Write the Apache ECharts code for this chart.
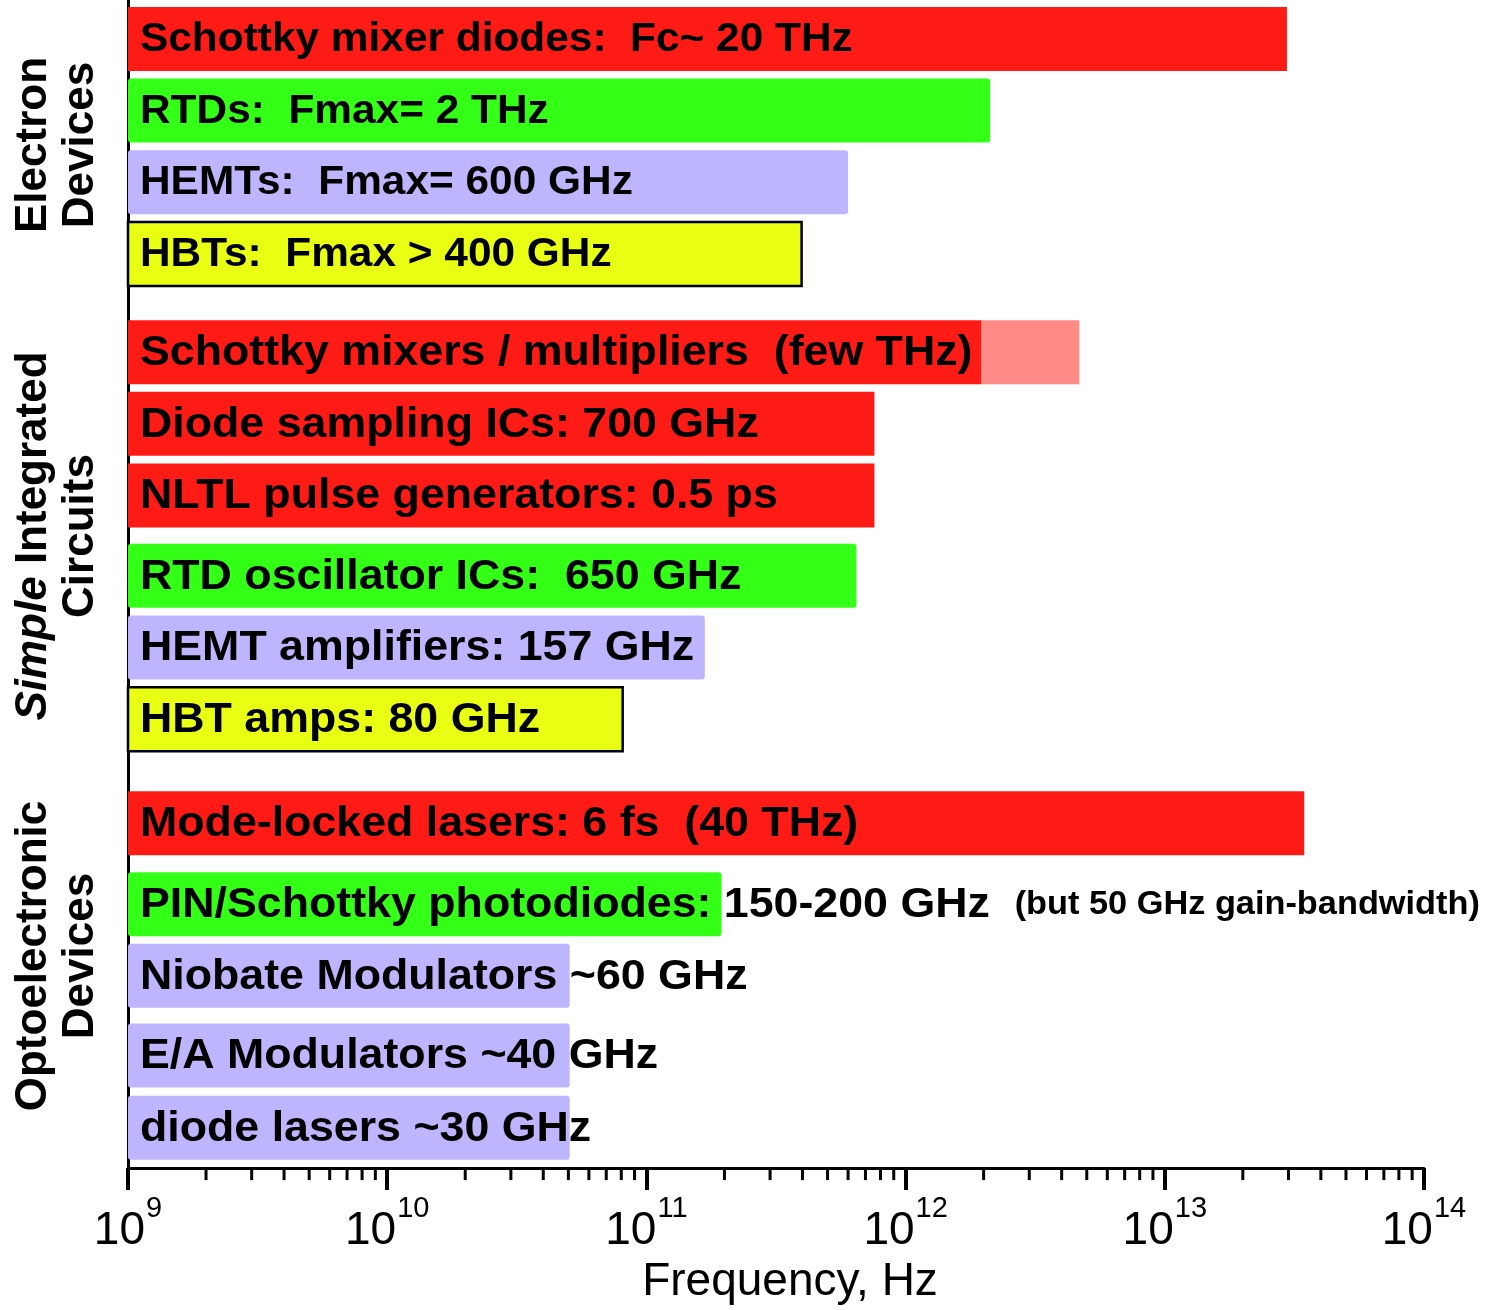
<!DOCTYPE html>
<html><head><meta charset="utf-8">
<script src="https://cdn.jsdelivr.net/npm/echarts@6/dist/echarts.min.js"></script>
<style>html,body{margin:0;padding:0;background:#fff}#c{width:1494px;height:1310px}</style>
</head><body><div id="c"></div>
<script>
// ---- data ----
const labels = [
  'Schottky mixer diodes:  Fc~ 20 THz',
  'RTDs:  Fmax= 2 THz',
  'HEMTs:  Fmax= 600 GHz',
  'HBTs:  Fmax > 400 GHz',
  'Schottky mixers / multipliers  (few THz)',
  'Diode sampling ICs: 700 GHz',
  'NLTL pulse generators: 0.5 ps',
  'RTD oscillator ICs:  650 GHz',
  'HEMT amplifiers: 157 GHz',
  'HBT amps: 80 GHz',
  'Mode-locked lasers: 6 fs  (40 THz)',
  'PIN/Schottky photodiodes: 150-200 GHz',
  'Niobate Modulators ~60 GHz',
  'E/A Modulators ~40 GHz',
  'diode lasers ~30 GHz'
];
const notes = ['', '', '', '', '', '', '', '', '', '', '', '(but 50 GHz gain-bandwidth)', '', '', ''];
const values = [2.96e13, 2.12e12, 6.0e11, 3.97e11, 1.96e12, 7.58e11, 7.58e11, 6.46e11, 1.68e11, 8.1e10, 3.45e13, 1.95e11, 5.06e10, 5.06e10, 5.06e10];
const extendTo = [null, null, null, null, 4.68e12, null, null, null, null, null, null, null, null, null, null];
const kinds = ['schottky', 'rtd', 'hemt', 'hbt', 'schottky', 'schottky', 'schottky', 'rtd', 'hemt', 'hbt', 'schottky', 'rtd', 'hemt', 'hemt', 'hemt'];
const groupOf = [0, 0, 0, 0, 1, 1, 1, 1, 1, 1, 2, 2, 2, 2, 2];
const groupNames = ['Electron\nDevices', '{i|Simple} Integrated\nCircuits', 'Optoelectronic\nDevices'];
const tickExponents = [9, 10, 11, 12, 13, 14];
const minorMultipliers = [2, 3, 4, 5, 6, 7, 8, 9];

// ---- layout (row spacing, styles) ----
const rowStep = [0, 1, 1, 1, 1.37, 1, 1, 1.12, 1, 1, 1.45, 1.13, 1, 1.11, 1.01];
const rowPos = [];
rowStep.reduce((acc, s, i) => { rowPos[i] = acc + s; return acc + s; }, 0);
const yMin = -0.543, yMax = 15.752;
const colors = { schottky: '#FF1B15', rtd: '#33FF17', hemt: '#BDB5FE', hbt: '#E8FF14' };
const extColor = '#FF8A86';
const groupFont = [40, 43, 43];
const groupScaleX = [1.06, 1.04, 1.04];
const groupCenterY = [145, 536, 956];
const FONT = '"Liberation Sans", Arial, Helvetica, sans-serif';

const minorTicks = [];
tickExponents.slice(0, -1).forEach(e => minorMultipliers.forEach(m => minorTicks.push(m * Math.pow(10, e))));

const chart = echarts.init(document.getElementById('c'), null, { renderer: 'canvas' });

const barData = values.map((v, i) => [v, rowPos[i], i]);

chart.setOption({
  animation: false,
  backgroundColor: '#fff',
  grid: { left: 128, right: 70, top: 0, bottom: 140, containLabel: false },
  xAxis: {
    type: 'log', logBase: 10, min: 1e9, max: 1e14,
    name: 'Frequency, Hz', nameLocation: 'middle', nameGap: 87,
    nameTextStyle: { fontSize: 46, fontFamily: FONT, color: '#000', padding: [0, 0, 0, 28] },
    axisLine: { show: true, onZero: false, lineStyle: { color: '#000', width: 3 } },
    axisTick: { show: true, length: 22, lineStyle: { color: '#000', width: 4 } },
    splitLine: { show: false },
    minorTick: { show: false },
    axisLabel: {
      margin: 26,
      formatter: v => '{b|10}{s|' + Math.round(Math.log10(v)) + '}',
      rich: {
        b: { fontSize: 46, fontFamily: FONT, color: '#000', lineHeight: 60, verticalAlign: 'bottom' },
        s: { fontSize: 29, fontFamily: FONT, color: '#000', lineHeight: 29, verticalAlign: 'top', padding: [0, 0, 0, 1] }
      }
    }
  },
  yAxis: {
    type: 'value', inverse: true, min: yMin, max: yMax,
    axisLine: { show: true, onZero: false, lineStyle: { color: '#000', width: 3 } },
    axisTick: { show: false }, axisLabel: { show: false }, splitLine: { show: false }
  },
  graphic: groupNames.map((t, g) => ({
    type: 'text', x: 57, y: groupCenterY[g], rotation: Math.PI / 2,
    style: {
      text: t, fontSize: 44, fontWeight: 'bold', fontFamily: FONT, fill: '#000',
      align: 'center', verticalAlign: 'middle', textAlign: 'center', textVerticalAlign: 'middle', lineHeight: 47,
      rich: { i: { fontSize: 44, fontWeight: 'bold', fontStyle: 'italic', fontFamily: FONT, fill: '#000', lineHeight: 47 } }
    }
  })),
  series: [
    {
      type: 'custom', name: 'bars', coordinateSystem: 'cartesian2d',
      encode: { x: 0, y: 1 }, clip: false, z: 3,
      data: barData,
      renderItem: function (params, api) {
        const i = api.value(2);
        const y = api.value(1);
        const s = api.coord([1e9, y]);
        const e = api.coord([api.value(0), y]);
        const h = 64;
        const kind = kinds[i];
        const g = groupOf[i];
        const children = [];
        if (extendTo[i]) {
          const e2 = api.coord([extendTo[i], y]);
          children.push({ type: 'rect', shape: { x: e[0], y: s[1] - h / 2, width: e2[0] - e[0], height: h },
            style: { fill: extColor } });
        }
        children.push({
          type: 'rect',
          shape: { x: s[0], y: s[1] - h / 2, width: e[0] - s[0], height: h, r: kind === 'hemt' || kind === 'rtd' ? 3 : 0 },
          style: kind === 'hbt' ? { fill: colors[kind], stroke: '#000', lineWidth: 2.5 } : { fill: colors[kind] }
        });
        const txt = labels[i] + (notes[i] ? '  {n|' + notes[i] + '}' : '');
        children.push({
          type: 'text', x: s[0] + 12, y: s[1] + 1, scaleX: groupScaleX[g], scaleY: 1,
          style: {
            text: txt, fill: '#000', fontSize: groupFont[g], fontWeight: 'bold', fontFamily: FONT,
            align: 'left', verticalAlign: 'middle', textAlign: 'left', textVerticalAlign: 'middle',
            rich: { n: { fontSize: 33, fontWeight: 'bold', fontFamily: FONT, fill: '#000' } }
          }
        });
        return { type: 'group', children: children };
      }
    },
    {
      type: 'custom', name: 'minor', coordinateSystem: 'cartesian2d',
      encode: { x: 0 }, clip: false, z: 4, silent: true,
      data: minorTicks.map(v => [v]),
      renderItem: function (params, api) {
        const p = api.coord([api.value(0), yMax]);
        return { type: 'line', shape: { x1: p[0], y1: p[1], x2: p[0], y2: p[1] + 12 },
          style: { stroke: '#000', lineWidth: 3 } };
      }
    }
  ]
});
</script></body></html>
